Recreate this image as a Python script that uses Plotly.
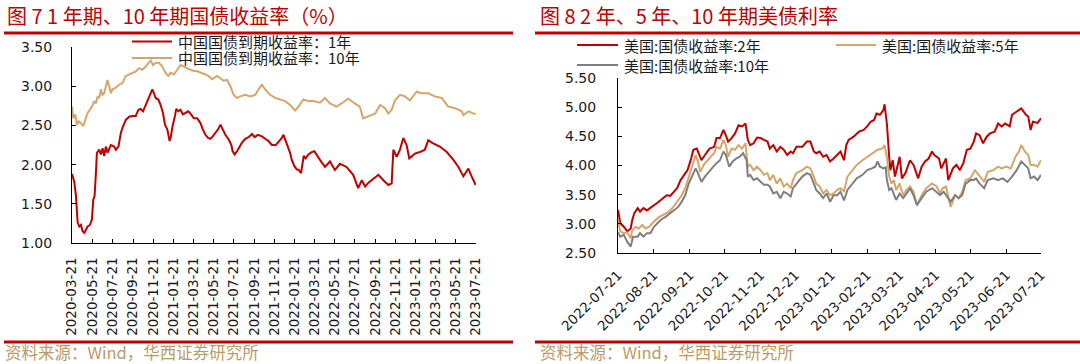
import plotly.graph_objects as go

W, H = 1080, 364

# ---------------- Left chart data: China government bond yields ----------------
cn1y_dates = [
    "2020-03-21","2020-03-28","2020-04-02","2020-04-07","2020-04-12","2020-04-17","2020-04-22","2020-04-27",
    "2020-05-02","2020-05-07","2020-05-14","2020-05-20","2020-05-24","2020-05-28","2020-06-01","2020-06-04",
    "2020-06-11","2020-06-16","2020-06-21","2020-06-26","2020-07-01","2020-07-06","2020-07-16","2020-07-26",
    "2020-07-31","2020-08-08","2020-08-15","2020-08-20","2020-08-30","2020-09-09","2020-09-19","2020-09-29",
    "2020-10-07","2020-10-14","2020-10-21","2020-10-29","2020-11-06","2020-11-13","2020-11-18","2020-11-23",
    "2020-11-28","2020-12-06","2020-12-13","2020-12-20","2020-12-26","2021-01-02","2021-01-09","2021-01-13",
    "2021-01-17","2021-01-25","2021-01-29","2021-02-04","2021-02-11","2021-02-18","2021-02-26","2021-03-06",
    "2021-03-13","2021-03-23","2021-04-02","2021-04-12","2021-04-19","2021-04-27","2021-05-05","2021-05-12",
    "2021-05-19","2021-05-27","2021-06-04","2021-06-11","2021-06-18","2021-06-26","2021-07-06","2021-07-14",
    "2021-07-18","2021-07-24","2021-07-31","2021-08-07","2021-08-15","2021-08-25","2021-09-04","2021-09-14",
    "2021-09-22","2021-10-02","2021-10-14","2021-10-24","2021-11-03","2021-11-13","2021-11-25","2021-12-05",
    "2021-12-13","2021-12-18","2021-12-23","2021-12-31","2022-01-07","2022-01-12","2022-01-20","2022-01-27",
    "2022-02-03","2022-02-09","2022-02-13","2022-02-17","2022-02-23","2022-03-03","2022-03-13","2022-03-21",
    "2022-04-07","2022-04-22","2022-05-07","2022-05-22","2022-06-06","2022-06-26","2022-07-16","2022-07-31",
    "2022-08-11","2022-08-21","2022-08-31","2022-09-10","2022-09-30","2022-10-15","2022-10-30","2022-11-09",
    "2022-11-14","2022-11-24","2022-12-04","2022-12-14","2022-12-24","2023-01-01","2023-01-18","2023-02-02",
    "2023-02-17","2023-02-27","2023-03-14","2023-04-03","2023-04-24","2023-05-14","2023-05-29","2023-06-13",
    "2023-06-28","2023-07-08","2023-07-20",
]
cn1y_vals = [
    1.88,1.78,1.60,1.26,1.21,1.23,1.15,1.13,
    1.17,1.21,1.23,1.30,1.55,1.60,1.89,2.15,
    2.19,2.13,2.21,2.11,2.23,2.15,2.25,2.23,
    2.19,2.23,2.40,2.47,2.57,2.61,2.62,2.62,
    2.70,2.71,2.68,2.76,2.83,2.89,2.96,2.91,
    2.85,2.83,2.76,2.66,2.51,2.45,2.30,2.36,
    2.47,2.62,2.71,2.68,2.70,2.64,2.66,2.68,
    2.65,2.59,2.59,2.53,2.45,2.38,2.34,2.33,
    2.36,2.40,2.45,2.51,2.45,2.38,2.32,2.25,
    2.17,2.13,2.17,2.23,2.28,2.33,2.35,2.39,
    2.35,2.38,2.36,2.33,2.30,2.25,2.25,2.30,
    2.34,2.38,2.32,2.23,2.15,2.06,1.98,1.94,
    1.93,1.89,1.98,2.11,2.08,2.13,2.16,2.17,
    2.06,1.97,2.04,1.93,2.01,1.97,1.87,1.70,
    1.80,1.72,1.77,1.80,1.87,1.80,1.74,1.76,
    2.19,2.10,2.19,2.34,2.25,2.08,2.14,2.16,
    2.19,2.31,2.27,2.23,2.16,2.06,1.97,1.85,
    1.95,1.85,1.74,
]

cn10y_dates = [
    "2020-03-21","2020-03-25","2020-03-31","2020-04-05","2020-04-10","2020-04-17","2020-04-24","2020-04-30",
    "2020-05-07","2020-05-14","2020-05-20","2020-05-27","2020-06-01","2020-06-06","2020-06-11","2020-06-16",
    "2020-06-21","2020-06-26","2020-07-01","2020-07-06","2020-07-11","2020-07-16","2020-07-21","2020-07-31",
    "2020-08-10","2020-08-20","2020-08-30","2020-09-09","2020-09-19","2020-09-29","2020-10-09","2020-10-19",
    "2020-10-29","2020-11-08","2020-11-13","2020-11-20","2020-11-28","2020-12-08","2020-12-18","2020-12-28",
    "2021-01-05","2021-01-12","2021-01-22","2021-02-01","2021-02-11","2021-02-21","2021-03-03","2021-03-18",
    "2021-04-02","2021-04-17","2021-04-27","2021-05-07","2021-05-17","2021-06-01","2021-06-11","2021-06-21",
    "2021-07-01","2021-07-11","2021-07-21","2021-07-31","2021-08-10","2021-08-25","2021-09-09","2021-09-24",
    "2021-10-04","2021-10-14","2021-10-24","2021-11-08","2021-11-23","2021-12-08","2021-12-23","2022-01-07",
    "2022-01-22","2022-02-01","2022-02-16","2022-03-03","2022-03-18","2022-04-07","2022-04-22","2022-05-07",
    "2022-05-27","2022-06-11","2022-07-01","2022-07-21","2022-08-05","2022-08-15","2022-09-05","2022-09-20",
    "2022-10-05","2022-10-20","2022-10-30","2022-11-09","2022-11-19","2022-12-04","2022-12-19","2023-01-03",
    "2023-01-23","2023-02-07","2023-02-27","2023-03-19","2023-04-09","2023-04-28","2023-05-19","2023-06-08",
    "2023-06-13","2023-06-28","2023-07-20",
]
cn10y_vals = [
    2.74,2.59,2.64,2.51,2.55,2.53,2.49,2.57,
    2.66,2.70,2.74,2.81,2.78,2.87,2.85,2.96,
    2.89,2.91,2.98,3.08,3.00,2.91,2.96,2.98,
    3.02,3.04,3.13,3.15,3.17,3.19,3.23,3.21,
    3.25,3.30,3.33,3.27,3.30,3.30,3.25,3.17,
    3.13,3.17,3.15,3.21,3.27,3.25,3.23,3.20,
    3.19,3.17,3.15,3.13,3.09,3.13,3.10,3.07,
    3.08,3.00,2.89,2.85,2.87,2.89,2.87,2.89,
    2.96,3.02,2.96,2.89,2.85,2.83,2.81,2.76,
    2.69,2.74,2.83,2.81,2.81,2.79,2.85,2.78,
    2.74,2.78,2.84,2.78,2.74,2.59,2.63,2.65,
    2.76,2.72,2.65,2.70,2.82,2.89,2.87,2.82,
    2.93,2.91,2.91,2.87,2.85,2.74,2.72,2.68,
    2.63,2.68,2.64,
]

cn_ticks = [
    "2020-03-21","2020-05-21","2020-07-21","2020-09-21","2020-11-21","2021-01-21","2021-03-21",
    "2021-05-21","2021-07-21","2021-09-21","2021-11-21","2022-01-21","2022-03-21","2022-05-21",
    "2022-07-21","2022-09-21","2022-11-21","2023-01-21","2023-03-21","2023-05-21","2023-07-21",
]

# ---------------- Right chart data: US Treasury yields ----------------
us2y_dates = [
    "2022-07-21","2022-07-23","2022-07-26","2022-07-29","2022-08-01","2022-08-02","2022-08-04","2022-08-07",
    "2022-08-09","2022-08-12","2022-08-15","2022-08-18","2022-08-21","2022-08-24","2022-08-27","2022-08-29",
    "2022-09-01","2022-09-04","2022-09-07","2022-09-10","2022-09-13","2022-09-16","2022-09-19","2022-09-22",
    "2022-09-24","2022-09-27","2022-09-29","2022-10-01","2022-10-04","2022-10-08","2022-10-12","2022-10-14",
    "2022-10-17","2022-10-20","2022-10-22","2022-10-24","2022-10-27","2022-10-30","2022-11-02","2022-11-05",
    "2022-11-08","2022-11-10","2022-11-12","2022-11-15","2022-11-18","2022-11-21","2022-11-24","2022-11-27",
    "2022-11-29","2022-12-02","2022-12-05","2022-12-08","2022-12-11","2022-12-14","2022-12-17","2022-12-19",
    "2022-12-22","2022-12-27","2022-12-31","2023-01-03","2023-01-06","2023-01-08","2023-01-11","2023-01-14",
    "2023-01-17","2023-01-20","2023-01-23","2023-01-26","2023-01-29","2023-02-01","2023-02-03","2023-02-05",
    "2023-02-09","2023-02-14","2023-02-18","2023-02-21","2023-02-24","2023-02-27","2023-03-01","2023-03-04",
    "2023-03-07","2023-03-08","2023-03-10","2023-03-12","2023-03-13","2023-03-15","2023-03-16","2023-03-17",
    "2023-03-19","2023-03-21","2023-03-23","2023-03-26","2023-03-28","2023-03-30","2023-04-02","2023-04-04",
    "2023-04-06","2023-04-09","2023-04-12","2023-04-15","2023-04-18","2023-04-20","2023-04-22","2023-04-24",
    "2023-04-26","2023-04-28","2023-04-30","2023-05-02","2023-05-06","2023-05-09","2023-05-12","2023-05-15",
    "2023-05-18","2023-05-21","2023-05-24","2023-05-26","2023-05-29","2023-06-01","2023-06-04","2023-06-07",
    "2023-06-11","2023-06-14","2023-06-17","2023-06-20","2023-06-24","2023-06-26","2023-06-30","2023-07-04",
    "2023-07-08","2023-07-10","2023-07-12","2023-07-14","2023-07-18","2023-07-21",
]
us2y_vals = [
    3.24,3.01,2.95,2.87,2.92,3.04,3.18,3.27,
    3.21,3.27,3.23,3.27,3.32,3.36,3.41,3.44,
    3.49,3.48,3.55,3.61,3.75,3.84,3.92,4.11,
    4.27,4.29,4.18,4.09,4.18,4.29,4.32,4.47,
    4.47,4.61,4.52,4.41,4.47,4.55,4.69,4.67,
    4.72,4.44,4.35,4.38,4.48,4.47,4.44,4.41,
    4.29,4.35,4.24,4.32,4.27,4.18,4.24,4.21,
    4.32,4.32,4.41,4.41,4.24,4.21,4.24,4.15,
    4.18,4.07,4.12,4.18,4.24,4.09,4.35,4.44,
    4.49,4.58,4.61,4.67,4.75,4.78,4.89,4.87,
    4.95,5.05,4.72,4.15,3.92,4.09,3.92,3.81,
    3.98,4.15,3.78,3.87,3.98,4.09,4.01,3.89,
    3.78,3.98,4.07,4.12,4.24,4.18,4.15,4.12,
    3.95,4.04,4.12,3.75,3.95,4.01,3.92,4.04,
    4.27,4.29,4.41,4.55,4.52,4.38,4.49,4.55,
    4.58,4.72,4.67,4.72,4.67,4.87,4.92,4.98,
    4.87,4.84,4.61,4.75,4.73,4.81,
]

us5y_dates = [
    "2022-07-21","2022-07-23","2022-07-26","2022-07-29","2022-08-01","2022-08-02","2022-08-05","2022-08-08",
    "2022-08-11","2022-08-14","2022-08-17","2022-08-21","2022-08-25","2022-08-29","2022-09-03","2022-09-06",
    "2022-09-08","2022-09-11","2022-09-14","2022-09-17","2022-09-20","2022-09-23","2022-09-26","2022-09-28",
    "2022-09-30","2022-10-03","2022-10-06","2022-10-09","2022-10-12","2022-10-14","2022-10-17","2022-10-20",
    "2022-10-22","2022-10-24","2022-10-27","2022-10-30","2022-11-02","2022-11-05","2022-11-08","2022-11-10",
    "2022-11-12","2022-11-15","2022-11-18","2022-11-21","2022-11-24","2022-11-27","2022-11-29","2022-12-02",
    "2022-12-05","2022-12-08","2022-12-11","2022-12-14","2022-12-17","2022-12-19","2022-12-22","2022-12-27",
    "2022-12-31","2023-01-03","2023-01-06","2023-01-08","2023-01-11","2023-01-14","2023-01-17","2023-01-20",
    "2023-01-23","2023-01-26","2023-01-29","2023-02-01","2023-02-04","2023-02-08","2023-02-12","2023-02-17",
    "2023-02-21","2023-02-24","2023-02-27","2023-03-02","2023-03-06","2023-03-08","2023-03-10","2023-03-12",
    "2023-03-14","2023-03-16","2023-03-18","2023-03-21","2023-03-24","2023-03-27","2023-03-30","2023-04-02",
    "2023-04-05","2023-04-09","2023-04-13","2023-04-18","2023-04-22","2023-04-25","2023-04-27","2023-04-30",
    "2023-05-04","2023-05-08","2023-05-11","2023-05-14","2023-05-17","2023-05-21","2023-05-25","2023-05-29",
    "2023-06-02","2023-06-05","2023-06-10","2023-06-14","2023-06-17","2023-06-21","2023-06-25","2023-06-29",
    "2023-07-02","2023-07-04","2023-07-07","2023-07-10","2023-07-12","2023-07-15","2023-07-18","2023-07-21",
]
us5y_vals = [
    3.07,2.87,2.84,2.85,2.75,2.87,2.95,2.92,
    2.98,2.92,2.95,3.04,3.11,3.15,3.21,3.27,
    3.32,3.41,3.49,3.61,3.81,3.98,4.18,4.07,
    3.89,4.01,4.09,4.15,4.21,4.32,4.29,4.44,
    4.35,4.15,4.29,4.27,4.35,4.29,4.38,3.98,
    4.01,3.92,3.98,3.92,3.84,3.87,3.75,3.84,
    3.69,3.78,3.64,3.69,3.61,3.75,3.87,3.92,
    3.98,3.95,3.81,3.69,3.64,3.52,3.58,3.49,
    3.52,3.58,3.61,3.56,3.81,3.92,4.01,4.09,
    4.15,4.18,4.24,4.27,4.29,4.35,4.15,3.81,
    3.69,3.75,3.58,3.69,3.49,3.58,3.64,3.55,
    3.32,3.49,3.61,3.69,3.64,3.52,3.61,3.64,
    3.29,3.49,3.44,3.55,3.75,3.78,3.92,3.81,
    3.72,3.89,3.92,3.98,3.95,3.98,3.95,4.15,
    4.24,4.35,4.24,4.18,4.01,4.01,3.98,4.09,
]

us10y_dates = [
    "2022-07-21","2022-07-23","2022-07-26","2022-07-29","2022-08-01","2022-08-03","2022-08-07","2022-08-09",
    "2022-08-12","2022-08-15","2022-08-18","2022-08-21","2022-08-24","2022-08-27","2022-08-31","2022-09-04",
    "2022-09-08","2022-09-11","2022-09-14","2022-09-17","2022-09-20","2022-09-23","2022-09-26","2022-09-28",
    "2022-10-01","2022-10-04","2022-10-07","2022-10-10","2022-10-14","2022-10-17","2022-10-20","2022-10-22",
    "2022-10-25","2022-10-28","2022-10-31","2022-11-03","2022-11-06","2022-11-09","2022-11-10","2022-11-12",
    "2022-11-15","2022-11-18","2022-11-21","2022-11-24","2022-11-27","2022-11-29","2022-12-02","2022-12-05",
    "2022-12-08","2022-12-11","2022-12-14","2022-12-17","2022-12-19","2022-12-22","2022-12-27","2022-12-31",
    "2023-01-03","2023-01-06","2023-01-08","2023-01-11","2023-01-14","2023-01-17","2023-01-20","2023-01-23",
    "2023-01-26","2023-01-29","2023-02-01","2023-02-04","2023-02-08","2023-02-12","2023-02-17","2023-02-21",
    "2023-02-25","2023-02-28","2023-03-02","2023-03-04","2023-03-07","2023-03-09","2023-03-10","2023-03-12",
    "2023-03-14","2023-03-16","2023-03-18","2023-03-21","2023-03-24","2023-03-27","2023-03-30","2023-04-02",
    "2023-04-05","2023-04-09","2023-04-13","2023-04-18","2023-04-22","2023-04-25","2023-04-28","2023-05-01",
    "2023-05-04","2023-05-08","2023-05-11","2023-05-14","2023-05-17","2023-05-21","2023-05-24","2023-05-26",
    "2023-05-29","2023-06-02","2023-06-05","2023-06-10","2023-06-14","2023-06-18","2023-06-22","2023-06-26",
    "2023-06-30","2023-07-04","2023-07-07","2023-07-10","2023-07-12","2023-07-15","2023-07-18","2023-07-21",
]
us10y_vals = [
    2.85,2.78,2.81,2.69,2.61,2.78,2.78,2.84,
    2.78,2.84,2.84,2.95,3.01,3.07,3.12,3.18,
    3.24,3.29,3.38,3.49,3.69,3.81,3.95,3.87,
    3.72,3.81,3.89,3.95,4.04,4.09,4.24,4.18,
    3.98,4.07,4.12,4.15,4.21,4.09,3.81,3.84,
    3.75,3.78,3.72,3.67,3.67,3.64,3.52,3.55,
    3.44,3.55,3.52,3.47,3.61,3.69,3.81,3.87,
    3.84,3.69,3.58,3.52,3.44,3.52,3.38,3.49,
    3.49,3.55,3.40,3.58,3.69,3.78,3.84,3.92,
    3.95,3.98,4.07,3.98,3.95,3.97,3.75,3.58,
    3.61,3.49,3.41,3.52,3.44,3.52,3.61,3.49,
    3.32,3.44,3.55,3.61,3.55,3.49,3.55,3.47,
    3.38,3.49,3.44,3.49,3.69,3.75,3.75,3.78,
    3.69,3.61,3.75,3.78,3.75,3.78,3.72,3.81,
    3.92,4.07,4.01,3.95,3.78,3.81,3.75,3.84,
]

us_ticks = [
    "2022-07-21","2022-08-21","2022-09-21","2022-10-21","2022-11-21","2022-12-21","2023-01-21",
    "2023-02-21","2023-03-21","2023-04-21","2023-05-21","2023-06-21","2023-07-21",
]

# ---------------- Text ----------------
title_left = "图 7 1 年期、10 年期国债收益率（%）"
title_right = "图 8 2 年、5 年、10 年期美债利率"
source_text = "资料来源：Wind，华西证券研究所"
name_cn1y = "中国国债到期收益率：1年"
name_cn10y = "中国国债到期收益率：10年"
name_us2y = "美国:国债收益率:2年"
name_us5y = "美国:国债收益率:5年"
name_us10y = "美国:国债收益率:10年"

RED = "#C00000"
TAN = "#D4A66C"
GREY = "#7F7F7F"
SRC = "#BC9A66"
CJK = "Noto Sans CJK SC"
NUM = "DejaVu Sans"


def px_x(v):
    return v / W


def px_y(v):
    return 1 - v / H


fig = go.Figure()
fig.add_trace(go.Scatter(x=cn1y_dates, y=cn1y_vals, name=name_cn1y, mode="lines",
                         line=dict(color=RED, width=2), xaxis="x", yaxis="y"))
fig.add_trace(go.Scatter(x=cn10y_dates, y=cn10y_vals, name=name_cn10y, mode="lines",
                         line=dict(color=TAN, width=2), xaxis="x", yaxis="y"))
fig.add_trace(go.Scatter(x=us2y_dates, y=us2y_vals, name=name_us2y, mode="lines",
                         line=dict(color=RED, width=2), xaxis="x2", yaxis="y2"))
fig.add_trace(go.Scatter(x=us5y_dates, y=us5y_vals, name=name_us5y, mode="lines",
                         line=dict(color=TAN, width=2), xaxis="x2", yaxis="y2"))
fig.add_trace(go.Scatter(x=us10y_dates, y=us10y_vals, name=name_us10y, mode="lines",
                         line=dict(color=GREY, width=2), xaxis="x2", yaxis="y2"))

axis_common = dict(showgrid=False, zeroline=False, showline=True, linecolor="#000000", linewidth=1,
                   ticks="inside", ticklen=4, tickcolor="#000000", tickwidth=1, automargin=False)

fig.update_layout(
    width=W, height=H, margin=dict(l=0, r=0, t=0, b=0, autoexpand=False),
    paper_bgcolor="white", plot_bgcolor="white", showlegend=False,
    xaxis=dict(**axis_common, type="date", domain=[px_x(72), px_x(476)],
               range=[cn_ticks[0], cn_ticks[-1]], tickmode="array", tickvals=cn_ticks, ticktext=cn_ticks,
               tickangle=-90, tickfont=dict(family=NUM, size=13.5, color="#1a1a1a"),
               ticklabelstandoff=8, anchor="y"),
    yaxis=dict(**axis_common, domain=[px_y(243), px_y(47)], range=[1.0, 3.5], dtick=0.5, tick0=1.0,
               tickformat=".2f", tickfont=dict(family=NUM, size=14, color="#1a1a1a"),
               ticklabelstandoff=16, anchor="x"),
    xaxis2=dict(**axis_common, type="date", domain=[px_x(618), px_x(1041)],
                range=[us_ticks[0], us_ticks[-1]], tickmode="array", tickvals=us_ticks, ticktext=us_ticks,
                tickangle=-45, tickfont=dict(family=NUM, size=13.5, color="#1a1a1a"),
                ticklabelstandoff=8, anchor="y2"),
    yaxis2=dict(**axis_common, domain=[px_y(253), px_y(78)], range=[2.5, 5.5], dtick=0.5, tick0=2.5,
                tickformat=".2f", tickfont=dict(family=NUM, size=14, color="#1a1a1a"),
                ticklabelstandoff=18, anchor="x2"),
)

shapes = []
# title underlines and footer lines
for x0, x1 in [(4, 513), (535, 1080)]:
    shapes.append(dict(type="line", xref="paper", yref="paper", x0=px_x(x0), x1=px_x(x1),
                       y0=px_y(33), y1=px_y(33), line=dict(color=RED, width=3)))
    shapes.append(dict(type="line", xref="paper", yref="paper", x0=px_x(x0), x1=px_x(x1),
                       y0=px_y(342), y1=px_y(342), line=dict(color=RED, width=3)))

# legend samples
legend_items = [
    (132, 172, 41.5, RED, name_cn1y),
    (132, 172, 58, TAN, name_cn10y),
    (577, 618, 45, RED, name_us2y),
    (836, 876, 45, TAN, name_us5y),
    (577, 618, 65, GREY, name_us10y),
]
annotations = []
for x0, x1, yy, col, label in legend_items:
    shapes.append(dict(type="line", xref="paper", yref="paper", x0=px_x(x0), x1=px_x(x1),
                       y0=px_y(yy), y1=px_y(yy), line=dict(color=col, width=2)))
    annotations.append(dict(xref="paper", yref="paper", x=px_x(x1 + 4), y=px_y(yy), text=label,
                            showarrow=False, xanchor="left", yanchor="middle",
                            font=dict(family=CJK, size=15, color="#1a1a1a")))

for xx, txt in [(5, title_left), (538, title_right)]:
    annotations.append(dict(xref="paper", yref="paper", x=px_x(xx), y=px_y(16), text=txt,
                            showarrow=False, xanchor="left", yanchor="middle",
                            font=dict(family=CJK, size=20, color=RED)))
for xx in [3, 538]:
    annotations.append(dict(xref="paper", yref="paper", x=px_x(xx), y=px_y(352), text=source_text,
                            showarrow=False, xanchor="left", yanchor="middle",
                            font=dict(family=CJK, size=16.5, color=SRC)))

fig.update_layout(shapes=shapes, annotations=annotations)
fig.write_html(
    "out.html",
    config={"displayModeBar": False},
    post_script="document.body.style.margin='0';document.body.style.padding='0';"
                "document.body.style.overflow='hidden';",
)
